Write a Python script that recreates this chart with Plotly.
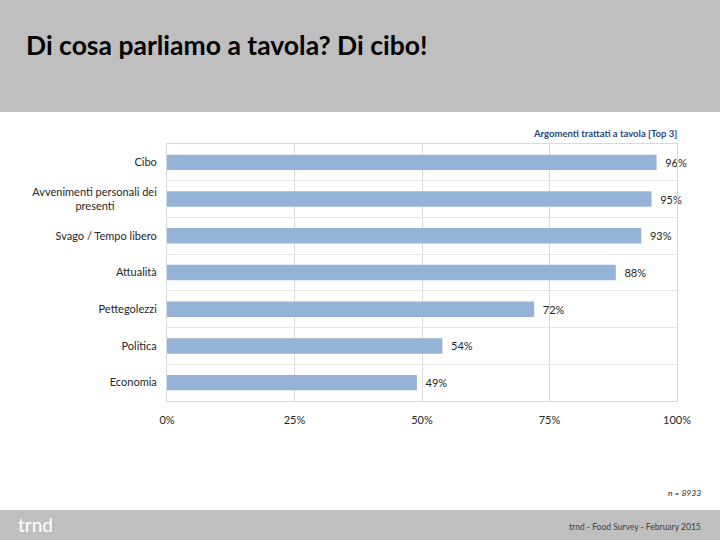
import plotly.graph_objects as go

categories = ["Cibo", "Avvenimenti personali dei<br>presenti" + "\u00a0" * 15, "Svago / Tempo libero",
              "Attualità", "Pettegolezzi", "Politica", "Economia"]
values = [96, 95, 93, 88, 72, 54, 49]
tick_vals = [0, 25, 50, 75, 100]
tick_text = ["0%", "25%", "50%", "75%", "100%"]

FONT = "Lato"
L, R, T, B = 167, 43, 144, 139
PW, PH = 720 - L - R, 540 - T - B

def px(x):
    return (x - L) / PW

def py(y):
    return (540 - B - y) / PH

fig = go.Figure(go.Bar(
    x=values, y=categories, orientation="h",
    marker=dict(color="#95b3d7", line=dict(width=0)),
    width=0.42,
    text=[f"\u00a0\u00a0{v}%" for v in values], textposition="outside",
    textfont=dict(family=FONT, size=11, color="#262626"),
    cliponaxis=False,
    hoverinfo="skip",
))

fig.update_layout(
    width=720, height=540,
    margin=dict(l=L, r=R, t=T, b=B),
    paper_bgcolor="white", plot_bgcolor="white",
    showlegend=False,
    font=dict(family=FONT, size=11, color="#262626"),
    xaxis=dict(range=[0, 100], tickvals=tick_vals, ticktext=tick_text,
               showgrid=True, gridcolor="#d9d9d9", gridwidth=1,
               showline=True, linecolor="#d9d9d9", mirror=True,
               zeroline=False, ticks="", ticklen=0, ticklabelstandoff=9,
               tickfont=dict(family=FONT, size=11, color="#262626")),
    yaxis=dict(autorange="reversed", type="category", tickson="boundaries",
               showgrid=True, gridcolor="#e6e6e6", gridwidth=1,
               showline=True, linecolor="#d9d9d9", mirror=True,
               ticks="", ticklen=0, ticklabelstandoff=7,
               tickfont=dict(family=FONT, size=11, color="#262626")),
    shapes=[
        dict(type="rect", xref="paper", yref="paper", x0=px(-5), x1=px(730),
             y0=py(112), y1=py(-5),
             fillcolor="#bfbfbf", line=dict(width=0), layer="below"),
        dict(type="rect", xref="paper", yref="paper", x0=px(-5), x1=px(730),
             y0=py(545), y1=py(510),
             fillcolor="#bfbfbf", line=dict(width=0), layer="below"),
    ],
    annotations=[
        dict(text="<b>Di cosa parliamo a tavola? Di cibo!</b>", xref="paper", yref="paper",
             x=px(24), y=py(45), xanchor="left", yanchor="middle",
             showarrow=False, font=dict(family=FONT, size=26.5, color="black")),
        dict(text="<b>Argomenti trattati a tavola [Top 3]</b>", xref="paper", yref="paper",
             x=px(679), y=py(134), xanchor="right", yanchor="middle",
             showarrow=False, font=dict(family=FONT, size=9.5, color="#1f497d")),
        dict(text="<i>n = 8933</i>", xref="paper", yref="paper",
             x=px(703), y=py(493), xanchor="right", yanchor="middle",
             showarrow=False, font=dict(family=FONT, size=8.5, color="#262626")),
        dict(text="trnd", xref="paper", yref="paper",
             x=px(16), y=py(524), xanchor="left", yanchor="middle",
             showarrow=False, font=dict(family=FONT, size=19, color="white")),
        dict(text="trnd - Food Survey - February 2015", xref="paper", yref="paper",
             x=px(703), y=py(527), xanchor="right", yanchor="middle",
             showarrow=False, font=dict(family=FONT, size=8.5, color="#404040")),
    ],
)

fig.write_html("out.html", config={"displayModeBar": False},
               post_script="document.body.style.margin='0';")
